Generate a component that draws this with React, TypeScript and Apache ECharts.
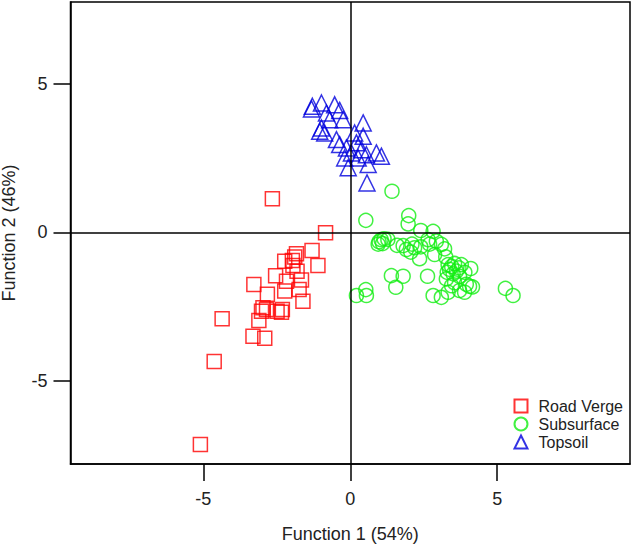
import React, { useEffect, useRef } from "react";
import * as echarts from "echarts";

const seriesNames = ["Road Verge", "Subsurface", "Topsoil"];

const roadVerge: number[][] = [
  [-2.65, 1.13], [-0.84, -0.02], [-1.30, -0.61], [-1.83, -0.72], [-1.89, -0.83],
  [-2.23, -0.98], [-1.95, -1.12], [-1.10, -1.12], [-1.81, -1.31], [-2.54, -1.46],
  [-2.17, -1.65], [-1.66, -1.61], [-2.23, -1.98], [-3.28, -1.76], [-2.82, -2.09],
  [-1.74, -1.93], [-1.61, -2.32], [-2.97, -2.54], [-2.85, -2.60], [-3.02, -2.66],
  [-2.31, -2.60], [-2.34, -2.69], [-2.49, -2.66], [-3.11, -2.97], [-4.36, -2.91],
  [-3.31, -3.50], [-2.91, -3.57], [-4.63, -4.35], [-5.10, -7.14], [-1.97, -0.95],
];

const subsurface: number[][] = [
  [1.42, 1.38], [0.53, 0.40], [1.99, 0.56], [1.97, 0.28], [2.40, 0.06], [2.82, 0.03],
  [0.98, -0.32], [1.05, -0.25], [1.15, -0.22], [1.28, -0.24], [0.95, -0.40], [1.10, -0.38],
  [1.59, -0.44], [1.91, -0.58], [2.06, -0.67], [2.19, -0.52], [2.40, -0.49], [1.80, -0.45],
  [2.10, -0.40], [2.36, -0.89], [2.65, -0.25], [2.93, -0.30], [3.10, -0.41], [3.21, -0.56],
  [2.87, -0.75], [3.25, -0.83], [2.70, -0.40], [3.33, -1.09], [3.55, -1.05], [3.78, -1.09],
  [4.10, -1.22], [3.38, -1.25], [3.61, -1.31], [3.45, -1.15], [3.50, -1.40], [3.30, -1.35],
  [3.70, -1.20], [3.90, -1.35], [3.27, -1.57], [3.72, -1.48], [3.55, -1.70], [4.06, -1.82],
  [4.16, -1.84], [3.72, -1.96], [3.89, -2.02], [3.33, -2.02], [3.10, -2.19], [2.82, -2.13],
  [3.45, -1.80], [3.95, -1.75], [2.63, -1.48], [1.40, -1.46], [1.80, -1.48], [1.55, -1.85],
  [0.53, -1.93], [0.55, -2.13], [0.21, -2.13], [5.28, -1.89], [5.54, -2.13],
];

const topsoil: number[][] = [
  [-1.29, 4.24], [-0.98, 4.35], [-1.32, 4.15], [-0.53, 4.29], [-0.36, 4.10], [-0.81, 4.01],
  [-0.70, 3.79], [-0.24, 3.79], [0.44, 3.68], [-0.98, 3.51], [-0.87, 3.34], [-1.04, 3.40],
  [-0.47, 3.12], [0.15, 3.34], [0.44, 3.23], [-0.36, 2.95], [-0.13, 2.84], [0.21, 3.01],
  [0.04, 2.67], [0.38, 2.78], [0.55, 2.61], [0.89, 2.67], [1.06, 2.56], [-0.19, 2.50],
  [0.27, 2.50], [0.61, 2.28], [-0.07, 2.17], [0.57, 1.66],
];

const xTicks = [-5, 0, 5];
const yTicks = [-5, 0, 5];
const xRange = [-9.52, 9.52];
const yRange = [-7.8, 7.75];

const FONT = "'Liberation Sans', Arial, sans-serif";

export default function App() {
  const ref = useRef<HTMLDivElement>(null);
  useEffect(() => {
    if (!ref.current) return;
    const chart = echarts.init(ref.current, null, { renderer: "svg" });
    const colors = ["#ff0000", "#11ee11", "#0000dd"];
    const symbols = ["rect", "circle", "triangle"];
    const sizes = [14, 14, 16];
    const datas = [roadVerge, subsurface, topsoil];
    const axisCommon = {
      type: "value" as const,
      splitLine: { show: false },
      axisLine: { show: true, onZero: false, lineStyle: { color: "#000", width: 1.5 } },
      axisTick: { show: true, inside: false, length: 17, lineStyle: { color: "#000", width: 1.5 } },
      nameLocation: "middle" as const,
      nameTextStyle: { fontFamily: FONT, fontSize: 18, color: "#222" },
    };
    chart.setOption({
      animation: false,
      backgroundColor: "#fff",
      grid: {
        left: 70.5,
        right: 3,
        top: 2,
        bottom: 81,
        containLabel: false,
        outerBoundsMode: "none",
        show: true,
        borderColor: "#000",
        borderWidth: 1.5,
        backgroundColor: "transparent",
      },
      xAxis: {
        ...axisCommon,
        min: xRange[0],
        max: xRange[1],
        name: "Function 1 (54%)",
        nameGap: 61,
        axisTick: { ...axisCommon.axisTick, customValues: xTicks },
        axisLabel: {
          customValues: xTicks,
          margin: 26,
          fontFamily: FONT,
          fontSize: 18,
          color: "#222",
        },
      },
      yAxis: {
        ...axisCommon,
        min: yRange[0],
        max: yRange[1],
        name: "Function 2 (46%)",
        nameGap: 53,
        axisTick: { ...axisCommon.axisTick, customValues: yTicks },
        axisLabel: {
          customValues: yTicks,
          margin: 23,
          fontFamily: FONT,
          fontSize: 18,
          color: "#222",
        },
      },
      legend: {
        orient: "vertical",
        right: 5,
        top: 393,
        itemWidth: 13,
        itemHeight: 13,
        itemGap: 2,
        textStyle: { fontFamily: FONT, fontSize: 16, color: "#222", padding: [0, 0, 0, 6] },
        data: seriesNames,
      },
      series: seriesNames.map((name, i) => ({
        name,
        type: "scatter",
        symbol: symbols[i],
        symbolSize: sizes[i],
        data: datas[i],
        itemStyle: { color: "transparent", borderColor: colors[i], borderWidth: 1.5 },
        emphasis: { disabled: true },
        ...(i === 0
          ? {
              markLine: {
                silent: true,
                symbol: ["none", "none"],
                label: { show: false },
                lineStyle: { color: "#000", width: 1.5, type: "solid" },
                data: [{ xAxis: 0 }, { yAxis: 0 }],
              },
            }
          : {}),
      })),
    });
    return () => chart.dispose();
  }, []);
  return (
    <div
      ref={ref}
      style={{ position: "fixed", left: 0, top: 0, width: 633, height: 545 }}
    />
  );
}
